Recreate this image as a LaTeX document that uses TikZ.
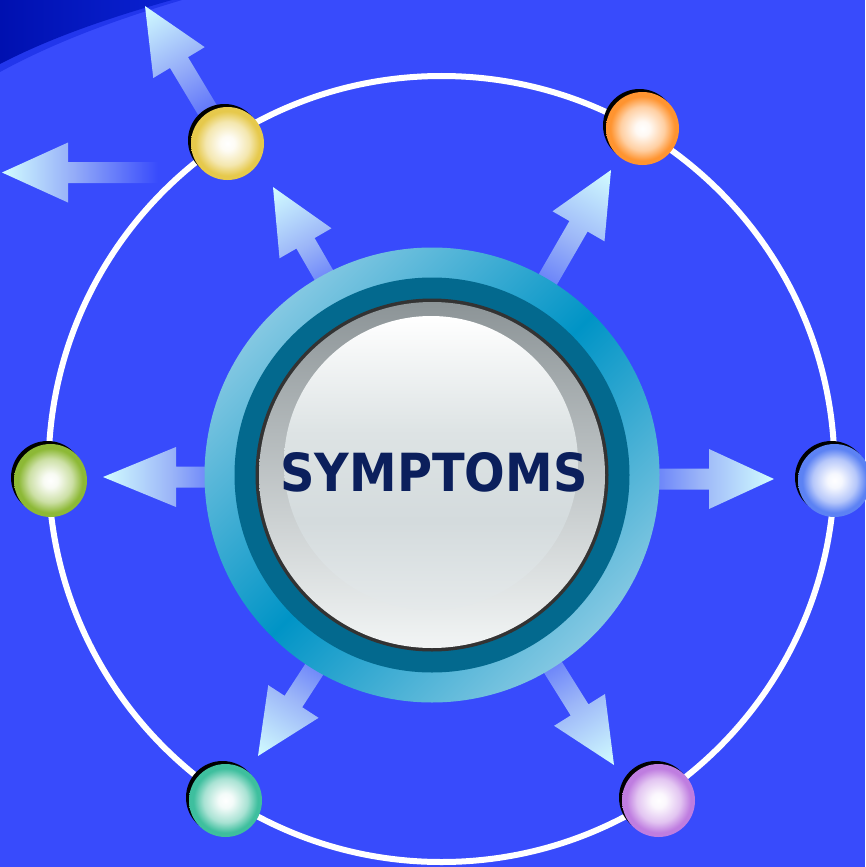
\documentclass[tikz,border=0pt]{standalone}
\usepackage{fontspec}
\newfontfamily\symfont{DejaVu Sans}
\usetikzlibrary{calc}
\definecolor{bgblue}{HTML}{384BFC}
\definecolor{cornerA}{HTML}{0010B0}
\definecolor{cornerB}{HTML}{0A22D2}
\definecolor{cornerC}{HTML}{2236EC}
\definecolor{ringL}{HTML}{84C8E2}
\definecolor{ringD}{HTML}{0094C6}
\definecolor{ringdark}{HTML}{03698E}
\definecolor{rimc}{HTML}{333333}
\definecolor{faceT}{HTML}{8C9497}
\definecolor{faceB}{HTML}{F2F5F5}
\definecolor{discT}{HTML}{FFFFFF}
\definecolor{discM}{HTML}{DDE3E4}
\definecolor{discB}{HTML}{D4DBDD}
\definecolor{textc}{HTML}{0B1F5C}
\definecolor{arrA}{HTML}{4C64FA}
\definecolor{arrB}{HTML}{9CB6F8}
\definecolor{arrC}{HTML}{D2FDFF}
\definecolor{arrY}{HTML}{384BFC}
\definecolor{arrYB}{HTML}{94ACF8}
\definecolor{ballyel}{HTML}{E6C94C}
\definecolor{ballora}{HTML}{FF9430}
\definecolor{ballblu}{HTML}{5C82F4}
\definecolor{ballpur}{HTML}{BF7DE0}
\definecolor{balltea}{HTML}{3EBF9E}
\definecolor{ballgre}{HTML}{8DB936}
\colorlet{ballc}{ballyel}
\pgfdeclarehorizontalshading{arrfade}{100bp}{color(0bp)=(arrA); color(25bp)=(arrA); color(50bp)=(arrB); color(75bp)=(arrC); color(100bp)=(arrC)}
\pgfdeclarehorizontalshading{arrfadeY}{100bp}{color(0bp)=(arrY); color(25bp)=(arrY); color(52bp)=(arrYB); color(75bp)=(arrC); color(100bp)=(arrC)}
\pgfdeclarehorizontalshading{ringsh}{100bp}{color(0bp)=(ringL); color(25bp)=(ringL); color(50bp)=(ringD); color(75bp)=(ringL); color(100bp)=(ringL)}
\pgfdeclareverticalshading{facesh}{100bp}{color(0bp)=(faceB); color(25bp)=(faceB); color(75bp)=(faceT); color(100bp)=(faceT)}
\pgfdeclareverticalshading{discsh}{100bp}{color(0bp)=(discB!60!white); color(25bp)=(discB!60!white); color(40bp)=(discB); color(55bp)=(discM); color(75bp)=(discT); color(100bp)=(discT)}
\pgfdeclareradialshading[ballc]{ballsh}{\pgfpoint{0bp}{0bp}}{color(0bp)=(white); color(5bp)=(white!94!ballc); color(15bp)=(ballc!45!white); color(22bp)=(ballc); color(25bp)=(ballc); color(50bp)=(ballc)}
% #1 tip, #2 angle, #3 head length, #4 shaft length, #5 shading
\newcommand\bigarrow[5]{%
  \begin{scope}[transform canvas={shift={#1}, rotate=#2}]
    \shade[shading=#5] (0,0) -- (-#3,30) -- (-#3,10.5) -- (-#3-#4,10.5)
      -- (-#3-#4,-10.5) -- (-#3,-10.5) -- (-#3,-30) -- cycle;
  \end{scope}}
\begin{document}
\begin{tikzpicture}[x=1pt,y=-1pt]
\useasboundingbox (0,0) rectangle (865,867);
\fill[bgblue] (0,0) rectangle (865,867);
% dark corner
\fill[cornerC] (0,0) -- (182,0) .. controls (115,20) and (55,42) .. (0,72) -- cycle;
\shade[left color=cornerA, right color=cornerB] (0,0) -- (172,0) .. controls (108,18) and (50,38) .. (0,64) -- cycle;
% orbit
\coordinate (orbit) at (441.5,469);
\draw[white, line width=6] (orbit) circle (393);
% arrows from the hub
\bigarrow{(273,187)}{120}{65}{69}{arrfade}
\bigarrow{(611,170)}{60}{65}{94}{arrfade}
\bigarrow{(103,477)}{180}{73}{61}{arrfade}
\bigarrow{(774,479)}{0}{65}{81}{arrfade}
\bigarrow{(258,756)}{-123}{65}{70}{arrfade}
\bigarrow{(614,765)}{-58}{65}{82}{arrfade}
% arrows from the yellow ball
\bigarrow{(145,6)}{121}{66}{94}{arrfadeY}
\bigarrow{(2,172.5)}{180}{66}{90}{arrfadeY}
% hub
\coordinate (hub) at (432,475);
\shade[shading=ringsh, shading angle=-45] (hub) circle (227.5);
\fill[ringdark] (hub) circle (197.5);
\fill[rimc] (hub) circle (176.5);
\shade[shading=facesh] (hub) circle (173);
\shade[shading=discsh] ($(hub)+(-1,-12)$) circle (147);
\node[text=textc, inner sep=0] (title) at (434,472)
  {\resizebox{307pt}{39pt}{\symfont\bfseries SYMPTOMS}};
% balls
\foreach \n/\x/\y/\c in {yel/227/143/ballyel, ora/642/128/ballora, blu/834/480/ballblu,
    pur/658/800/ballpur, tea/225/800/balltea, gre/50/480/ballgre}{
  \fill[black] (\x-2.5,\y-2.5) circle (36.5);
  \colorlet{ballc}{\c}
  \shade[shading=ballsh] (\x+0.5,\y+0.5) circle (36.5);
  \coordinate (\n) at (\x,\y);
}
\end{tikzpicture}
\end{document}
